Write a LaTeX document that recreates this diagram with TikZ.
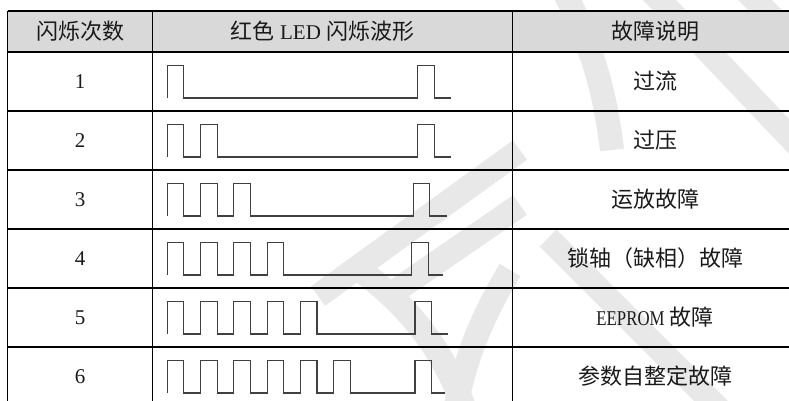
\documentclass[tikz,border=0pt]{standalone}
\usepackage{fontspec}
\usepackage{graphicx}
\setmainfont{Liberation Serif}
\newfontfamily\cjk{Noto Sans CJK SC}
\newfontfamily\latn{Liberation Serif}
\definecolor{hdrgray}{HTML}{D9D9D9}
\definecolor{wavegray}{HTML}{404040}
\definecolor{txt}{HTML}{1A1A1A}
\definecolor{wmgray}{HTML}{E8E8E8}
\newcommand\zhtxt[1]{{\fontsize{22}{26}\selectfont\cjk #1}}
\newcommand\lttxt[1]{{\fontsize{21}{26}\selectfont\latn #1}}
\begin{document}
\begin{tikzpicture}[x=1pt,y=-1pt,
  gridline/.style={black,line width=1.1pt},
  wave/.style={wavegray,line width=1.1pt},
  wm/.style={wmgray,line width=24pt},
  cell/.style={inner sep=0pt,text=txt,anchor=center}]
\useasboundingbox (0,0) rectangle (789,401);
\clip (0,0) rectangle (789,401);
\fill[white] (0,0) rectangle (789,401);
% faint watermark strokes
\draw[wm] (563,-10) .. controls (590,40) and (605,90) .. (612,150);
\draw[wm] (650,-10) -- (800,148);
\draw[wm] (800,45) -- (745,-10);
\draw[wm] (548,238) -- (730,420);
\draw[wm] (510,270) .. controls (480,320) and (465,360) .. (455,410);
\draw[wm] (360,270) .. controls (400,300) and (440,340) .. (465,410);
\draw[wm] (318,296) -- (520,150);
\draw[wm] (388,296) -- (520,205);
% header background
\fill[hdrgray] (7.5,11) rectangle (798,52);
% grid
\draw[gridline] (7.5,11) -- (798,11);
\foreach \y in {52,111,170,229,288,347}{\draw[gridline] (7.5,\y) -- (798,\y);}
\draw[gridline] (7.5,11) -- (7.5,406);
\draw[gridline] (152.3,11) -- (152.3,406);
\draw[gridline] (512.3,11) -- (512.3,406);
% header texts
\node[cell] (h1) at (80,31.5) {\zhtxt{闪烁次数}};
\node[cell] (h2) at (322.5,31.5) {\zhtxt{红色}\hspace{6pt}\lttxt{LED}\hspace{6pt}\zhtxt{闪烁波形}};
\node[cell] (h3) at (655,31.5) {\zhtxt{故障说明}};
% row numbers
\foreach \n in {1,...,6}{
  \pgfmathsetmacro\cy{52+59*(\n-1)+29.5}
  \node[cell] (r\n) at (80,\cy) {\lttxt{\n}};
}
% fault descriptions
\node[cell] (d1) at (655,81.5) {\zhtxt{过流}};
\node[cell] (d2) at (655,140.5) {\zhtxt{过压}};
\node[cell] (d3) at (655,199.5) {\zhtxt{运放故障}};
\node[cell] (d4) at (655,258.5) {\zhtxt{锁轴（缺相）故障}};
\node[cell] (d5) at (655,317.5) {\scalebox{0.8}[1]{\lttxt{EEPROM}}\hspace{5pt}\zhtxt{故障}};
\node[cell] (d6) at (655,376.5) {\zhtxt{参数自整定故障}};
% waveforms
\foreach \n/\fx/\ex in {1/417.7/451,2/417.7/451,3/413.3/446.7,4/411.7/442.7,5/415/447.7,6/415/445}{
  \pgfmathsetmacro\lo{52+59*(\n-1)+46}
  \draw[wave,line join=miter] (167.3,\lo)
    \foreach \k in {1,...,\n}{ -- ++(0,-32.5) -- ++(16.5,0) -- ++(0,32.5) -- ++(16.8,0)}
    -- (\fx,\lo) -- ++(0,-32.5) -- ++(16.5,0) -- ++(0,32.5) -- (\ex,\lo);
}
\end{tikzpicture}
\end{document}
